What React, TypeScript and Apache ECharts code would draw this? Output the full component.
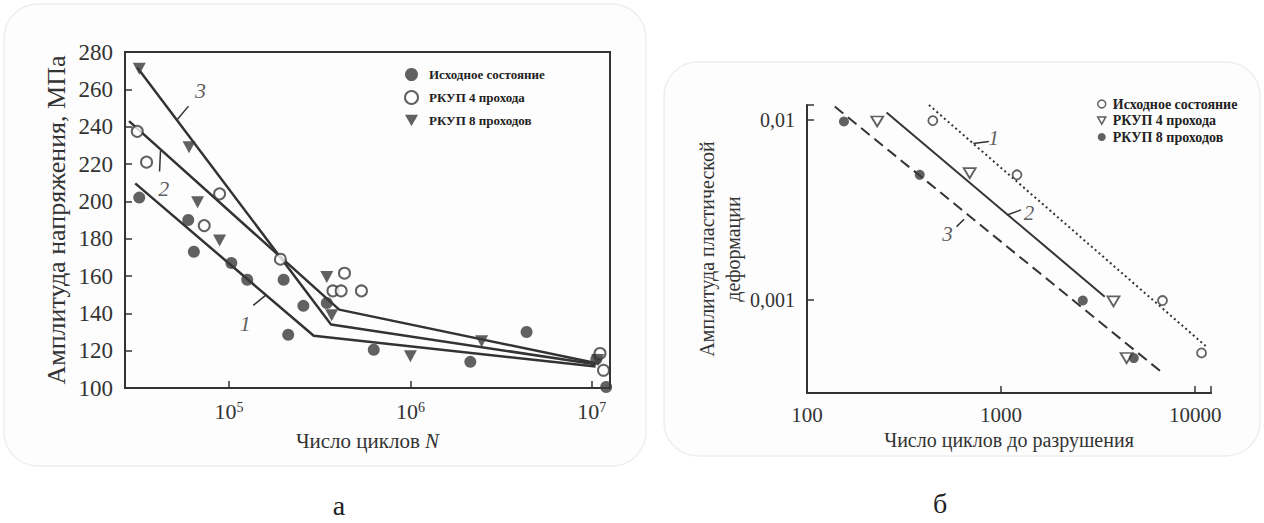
import React, { useEffect, useRef } from 'react';
import * as echarts from 'echarts';

// ---------- Chart а: stress amplitude vs number of cycles ----------
const aXMin = 26700;
const aXMax = 12600000;
const aYTicks = [100, 120, 140, 160, 180, 200, 220, 240, 260, 280];

const aInitialN = [32000, 59600, 64000, 103000, 126000, 200000, 212000, 257000, 346000, 628000, 2140000, 4370000, 10600000, 12000000];
const aInitialS = [202, 190, 173, 167, 158, 158, 128.5, 144, 145.5, 120.5, 114, 130, 115.5, 100.5];

const aPass4N = [31200, 35100, 88700, 73000, 192000, 433000, 374000, 415000, 537000, 11100000, 11600000];
const aPass4S = [237.5, 221, 204, 187, 169, 161.5, 152, 152, 152, 118.5, 109.5];

const aPass8N = [32000, 60200, 67100, 88700, 346000, 368000, 1000000, 2470000, 10800000];
const aPass8S = [271, 229, 199.5, 179, 159.5, 139, 117, 125, 115];

const aLine1 = [[30400, 209.6], [293000, 128], [10500000, 111.5]];
const aLine2 = [[28100, 243], [405000, 142], [10500000, 113.4]];
const aLine3 = [[31200, 271.7], [365000, 134], [10500000, 112.7]];

const aLabelText = ['1', '2', '3'];
const aLabelPos = [[123000, 134.8], [43600, 207], [69700, 259.6]];
const aLeaders = [
  [[159000, 149.6], [136000, 144.3]],
  [[41900, 227], [41400, 216]],
  [[52000, 244], [59800, 251]],
];

// ---------- Chart б: plastic strain amplitude vs cycles to failure ----------
const bXMin = 100;
const bXMax = 12070;
const bYMin = 0.000303;
const bYMax = 0.0121;

const bInitialN = [445, 1208, 6790, 10790];
const bInitialE = [0.0099, 0.00495, 0.00099, 0.000506];

const bPass4N = [230, 689, 3795, 4435];
const bPass4E = [0.0098, 0.00506, 0.00098, 0.000474];

const bPass8N = [155, 381, 2637, 4831];
const bPass8E = [0.0098, 0.00495, 0.00099, 0.000474];

const bLine1 = [[425, 0.0121], [11400, 0.00055]];
const bLine2 = [[257, 0.011], [3420, 0.00104]];
const bLine3 = [[139, 0.01186], [6790, 0.000392]];

const bLabelText = ['1', '2', '3'];
const bLabelPos = [[916, 0.0079], [1393, 0.00303], [529, 0.00232]];
const bLeaders = [
  [[720, 0.0074], [865, 0.00758]],
  [[1074, 0.00296], [1267, 0.00316]],
  [[645, 0.0028], [590, 0.00255]],
];

const seriesNames = ['Исходное состояние', 'РКУП 4 прохода', 'РКУП 8 проходов'];

const serif = '"Liberation Serif", "Times New Roman", serif';
const ink = '#333333';
const markInk = '#3a3a3a';
const invTri = 'path://M0,0L10,0L5,9Z';

const zip = (xs: number[], ys: number[]) => xs.map((x, i) => [x, ys[i]]);
const isPow10 = (v: number) => Math.abs(Math.log10(v) - Math.round(Math.log10(v))) < 1e-6;

export default function App() {
  const ref = useRef<HTMLDivElement>(null);

  useEffect(() => {
    document.body.style.margin = '0';
    const chart = echarts.init(ref.current!, null, { renderer: 'svg' });

    const labelSeries = (xi: number, texts: string[], pos: number[][], size: number) => ({
      type: 'scatter',
      xAxisIndex: xi,
      yAxisIndex: xi,
      symbolSize: 1,
      itemStyle: { color: 'rgba(0,0,0,0)' },
      silent: true,
      z: 5,
      data: pos.map((p, i) => ({ value: p, name: texts[i] })),
      label: {
        show: true,
        position: 'inside',
        formatter: '{b}',
        fontFamily: serif,
        fontStyle: 'italic',
        fontSize: size,
        color: ink,
      },
    });

    const leaderSeries = (xi: number, leaders: number[][][]) => ({
      type: 'lines',
      coordinateSystem: 'cartesian2d',
      xAxisIndex: xi,
      yAxisIndex: xi,
      silent: true,
      lineStyle: { color: ink, width: 1.5, opacity: 1 },
      data: leaders.map((c) => ({ coords: c })),
    });

    const fitLine = (xi: number, data: number[][], type: any, width = 2) => ({
      type: 'line',
      xAxisIndex: xi,
      yAxisIndex: xi,
      symbol: 'none',
      silent: true,
      z: 2,
      lineStyle: { color: ink, width, type },
      data,
    });

    const option: any = {
      animation: false,
      backgroundColor: '#ffffff',
      graphic: [
        {
          type: 'rect',
          z: -10,
          silent: true,
          shape: { x: 4, y: 4, width: 642, height: 462, r: 34 },
          style: { fill: '#fdfdfd', stroke: '#eeeeee', lineWidth: 1.5 },
        },
        {
          type: 'rect',
          z: -10,
          silent: true,
          shape: { x: 664, y: 62, width: 596, height: 394, r: 34 },
          style: { fill: '#fdfdfd', stroke: '#eeeeee', lineWidth: 1.5 },
        },
        {
          type: 'text',
          x: 339,
          y: 505,
          style: { text: 'а', fontFamily: serif, fontSize: 28, fill: '#222', align: 'center', verticalAlign: 'middle' },
        },
        {
          type: 'text',
          x: 940,
          y: 503,
          style: { text: 'б', fontFamily: serif, fontSize: 28, fill: '#222', align: 'center', verticalAlign: 'middle' },
        },
      ],
      legend: [
        {
          left: 399,
          top: 63,
          orient: 'vertical',
          itemWidth: 13,
          itemHeight: 13,
          itemGap: 9,
          selectedMode: false,
          textStyle: { fontFamily: serif, fontWeight: 'bold', fontSize: 13, color: '#222', padding: [0, 0, 0, 6] },
          data: [
            { name: seriesNames[0], icon: 'circle', itemStyle: { color: markInk, borderWidth: 0 } },
            { name: seriesNames[1], icon: 'circle', itemStyle: { color: '#fff', borderColor: markInk, borderWidth: 2 } },
            { name: seriesNames[2], icon: invTri, itemStyle: { color: markInk, borderWidth: 0 } },
          ],
        },
        {
          left: 1092,
          top: 92,
          orient: 'vertical',
          itemWidth: 8,
          itemHeight: 8,
          itemGap: 2.5,
          selectedMode: false,
          textStyle: { fontFamily: serif, fontWeight: 'bold', fontSize: 14, color: '#222', padding: [0, 0, 0, 2] },
          data: [
            { name: seriesNames[0], icon: 'circle', itemStyle: { color: '#fff', borderColor: markInk, borderWidth: 1.5 } },
            { name: seriesNames[1], icon: invTri, itemStyle: { color: '#fff', borderColor: markInk, borderWidth: 1.5 } },
            { name: seriesNames[2], icon: 'circle', itemStyle: { color: markInk, borderWidth: 0 } },
          ],
        },
      ],
      grid: [
        { left: 125, top: 52, width: 485, height: 336, show: true, borderColor: ink, borderWidth: 2, backgroundColor: 'transparent' },
        { left: 807, top: 105, width: 404, height: 288 },
      ],
      xAxis: [
        {
          gridIndex: 0,
          type: 'log',
          logBase: 10,
          min: aXMin,
          max: aXMax,
          axisLine: { show: true, lineStyle: { color: ink, width: 2 } },
          axisTick: { show: true, inside: true, length: 7, lineStyle: { color: ink, width: 1.5 } },
          splitLine: { show: false },
          axisLabel: {
            margin: 12,
            formatter: (v: number) => {
              if (!isPow10(v)) return '';
              const e = Math.round(Math.log10(v));
              return `{b|10}{s|${e}}`;
            },
            rich: {
              b: { fontFamily: serif, fontSize: 22, color: ink },
              s: { fontFamily: serif, fontSize: 14, color: ink, verticalAlign: 'top' },
            },
          },
          name: '{a|Число циклов }{i|N}',
          nameLocation: 'middle',
          nameGap: 42,
          nameTextStyle: {
            rich: {
              a: { fontFamily: serif, fontSize: 21, color: ink },
              i: { fontFamily: serif, fontSize: 21, color: ink, fontStyle: 'italic' },
            },
          },
        },
        {
          gridIndex: 1,
          type: 'log',
          logBase: 10,
          min: bXMin,
          max: bXMax,
          axisLine: { show: true, lineStyle: { color: ink, width: 2 } },
          axisTick: { show: true, inside: true, length: 7, lineStyle: { color: ink, width: 1.5 } },
          splitLine: { show: false },
          axisLabel: {
            margin: 11,
            fontFamily: serif,
            fontSize: 21,
            color: ink,
            formatter: (v: number) => (isPow10(v) ? String(Math.round(v)) : ''),
          },
          name: 'Число циклов до разрушения',
          nameLocation: 'middle',
          nameGap: 24,
          nameTextStyle: { fontFamily: serif, fontSize: 20, color: ink },
        },
      ],
      yAxis: [
        {
          gridIndex: 0,
          type: 'value',
          min: aYTicks[0],
          max: aYTicks[aYTicks.length - 1],
          interval: aYTicks[1] - aYTicks[0],
          axisLine: { show: true, lineStyle: { color: ink, width: 2 } },
          axisTick: { show: true, inside: true, length: 7, lineStyle: { color: ink, width: 1.5 } },
          splitLine: { show: false },
          axisLabel: { margin: 12, fontFamily: serif, fontSize: 23, color: ink },
          name: 'Амплитуда напряжения, МПа',
          nameLocation: 'middle',
          nameGap: 56,
          nameTextStyle: { fontFamily: serif, fontSize: 26, color: ink },
        },
        {
          gridIndex: 1,
          type: 'log',
          logBase: 10,
          min: bYMin,
          max: bYMax,
          axisLine: { show: true, lineStyle: { color: ink, width: 2 } },
          axisTick: { show: true, inside: true, length: 7, lineStyle: { color: ink, width: 1.5 } },
          splitLine: { show: false },
          axisLabel: {
            margin: 12,
            fontFamily: serif,
            fontSize: 20,
            color: ink,
            formatter: (v: number) => {
              if (!isPow10(v)) return '';
              const e = Math.round(Math.log10(v));
              return e === -2 ? '0,01' : e === -3 ? '0,001' : '';
            },
          },
          name: 'Амплитуда пластической\nдеформации',
          nameLocation: 'middle',
          nameGap: 52,
          nameTextStyle: { fontFamily: serif, fontSize: 20, lineHeight: 26, color: ink, align: 'center' },
        },
      ],
      series: [
        // chart а
        fitLine(0, aLine1, 'solid', 2.5),
        fitLine(0, aLine2, 'solid', 2.5),
        fitLine(0, aLine3, 'solid', 2.5),
        {
          name: seriesNames[0],
          type: 'scatter',
          xAxisIndex: 0,
          yAxisIndex: 0,
          symbol: 'circle',
          symbolSize: 12,
          itemStyle: { color: markInk },
          z: 4,
          data: zip(aInitialN, aInitialS),
        },
        {
          name: seriesNames[1],
          type: 'scatter',
          xAxisIndex: 0,
          yAxisIndex: 0,
          symbol: 'circle',
          symbolSize: 11,
          itemStyle: { color: '#fff', borderColor: markInk, borderWidth: 2 },
          z: 4,
          data: zip(aPass4N, aPass4S),
        },
        {
          name: seriesNames[2],
          type: 'scatter',
          xAxisIndex: 0,
          yAxisIndex: 0,
          symbol: invTri,
          symbolSize: [13, 12],
          itemStyle: { color: markInk },
          z: 4,
          data: zip(aPass8N, aPass8S),
        },
        leaderSeries(0, aLeaders),
        labelSeries(0, aLabelText, aLabelPos, 22),
        // chart б
        fitLine(1, bLine1, [2, 3], 2),
        fitLine(1, bLine2, 'solid', 2),
        fitLine(1, bLine3, [11, 6], 2),
        {
          name: seriesNames[0],
          type: 'scatter',
          xAxisIndex: 1,
          yAxisIndex: 1,
          symbol: 'circle',
          symbolSize: 9,
          itemStyle: { color: '#fff', borderColor: markInk, borderWidth: 1.8 },
          z: 4,
          data: zip(bInitialN, bInitialE),
        },
        {
          name: seriesNames[1],
          type: 'scatter',
          xAxisIndex: 1,
          yAxisIndex: 1,
          symbol: invTri,
          symbolSize: [12, 10],
          itemStyle: { color: '#fff', borderColor: markInk, borderWidth: 1.8 },
          z: 4,
          data: zip(bPass4N, bPass4E),
        },
        {
          name: seriesNames[2],
          type: 'scatter',
          xAxisIndex: 1,
          yAxisIndex: 1,
          symbol: 'circle',
          symbolSize: 10,
          itemStyle: { color: markInk },
          z: 4,
          data: zip(bPass8N, bPass8E),
        },
        leaderSeries(1, bLeaders),
        labelSeries(1, bLabelText, bLabelPos, 21),
      ],
    };

    chart.setOption(option);
    return () => chart.dispose();
  }, []);

  return <div ref={ref} style={{ width: 1264, height: 523 }} />;
}
